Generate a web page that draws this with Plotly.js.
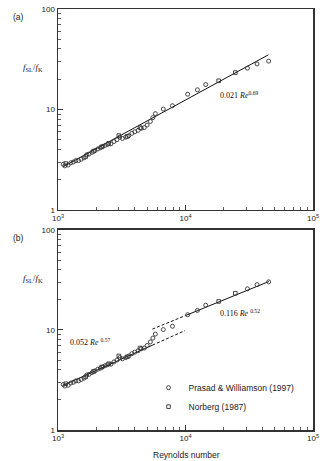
<!DOCTYPE html>
<html>
<head>
<meta charset="utf-8">
<script src="https://cdn.plot.ly/plotly-3.0.1.min.js"></script>
<style>html,body{margin:0;padding:0;background:#fff;}#chart{width:320px;height:461px;}</style>
</head>
<body>
<div id="chart"></div>
<script>
// Prasad & Williamson (1997)
const pwRe = [1100, 1130, 1200, 1260, 1320, 1380, 1450, 1520, 1600, 1680, 1750, 1850, 1950, 2050, 2150, 2250, 2350, 2450, 2600, 2750, 2900, 3050, 3200, 3400, 3600, 3800, 4000, 4250, 4500, 4750, 5000, 5300, 5550, 5800, 6700, 7900, 10400, 12400, 14400, 30600, 36400, 44900];
const pwF  = [2.85, 2.75, 2.8, 2.95, 3.0, 3.1, 3.1, 3.2, 3.3, 3.55, 3.6, 3.75, 3.9, 4.05, 4.15, 4.3, 4.4, 4.5, 4.55, 4.8, 5.0, 5.3, 5.15, 5.3, 5.5, 5.8, 6.0, 6.2, 6.5, 6.6, 7.0, 7.6, 8.3, 9.1, 10.1, 10.9, 14.2, 15.7, 17.7, 25.8, 28.4, 30.3];
// Norberg (1987)
const norRe = [1150, 1650, 1900, 2200, 2500, 3000, 3500, 4400, 18200, 24600];
const norF  = [2.9, 3.4, 3.85, 4.25, 4.6, 5.5, 5.4, 6.6, 19.3, 23.3];
// fit lines (end points)
const fitARe = [1100, 44700];
const fitAF  = [2.7, 35];
const fitB1Re = [1100, 5500];
const fitB1F  = [2.8, 7.05];
const fitB1dRe = [5500, 9900];
const fitB1dF  = [7.05, 9.86];
const fitB2dRe = [5500, 10000];
const fitB2dF  = [10.2, 13.95];
const fitB2Re = [10000, 45000];
const fitB2F  = [13.95, 30.5];
// ticks
const xTickVals = [1000, 10000, 100000];
const xTickText = ['10<sup>3</sup>', '10<sup>4</sup>', '10<sup>5</sup>'];
const yTickVals = [1, 10, 100];
const yTickText = ['1', '10', '100'];
const xMinor = [2000,3000,4000,5000,6000,7000,8000,9000,20000,30000,40000,50000,60000,70000,80000,90000];
const yMinor = [2,3,4,5,6,7,8,9,20,30,40,50,60,70,80,90];

const ink = '#333';
const circ = {symbol: 'circle-open', size: 4, color: ink, line: {width: 0.9, color: ink}};
const sq = {symbol: 'square-open', size: 3.6, color: ink, line: {width: 0.9, color: ink}};
const solid = {color: '#111', width: 1};
const dashed = {color: '#111', width: 1, dash: '3px,2px'};

const traces = [
  {x: fitARe, y: fitAF, mode: 'lines', line: solid, xaxis: 'x', yaxis: 'y', showlegend: false, hoverinfo: 'skip'},
  {x: pwRe, y: pwF, mode: 'markers', marker: circ, xaxis: 'x', yaxis: 'y', showlegend: false},
  {x: norRe, y: norF, mode: 'markers', marker: sq, xaxis: 'x', yaxis: 'y', showlegend: false},
  {x: fitB1Re, y: fitB1F, mode: 'lines', line: solid, xaxis: 'x2', yaxis: 'y2', showlegend: false},
  {x: fitB1dRe, y: fitB1dF, mode: 'lines', line: dashed, xaxis: 'x2', yaxis: 'y2', showlegend: false},
  {x: fitB2dRe, y: fitB2dF, mode: 'lines', line: dashed, xaxis: 'x2', yaxis: 'y2', showlegend: false},
  {x: fitB2Re, y: fitB2F, mode: 'lines', line: solid, xaxis: 'x2', yaxis: 'y2', showlegend: false},
  {x: pwRe, y: pwF, mode: 'markers', marker: circ, xaxis: 'x2', yaxis: 'y2', name: 'Prasad &amp; Williamson (1997)'},
  {x: norRe, y: norF, mode: 'markers', marker: sq, xaxis: 'x2', yaxis: 'y2', name: 'Norberg (1987)'}
];

const tickFont = {family: 'Liberation Sans, Arial, sans-serif', size: 8, color: '#222'};
function xax(anchor) {
  return {type: 'log', range: [3, 5], anchor: anchor, tickmode: 'array', tickvals: xTickVals, ticktext: xTickText,
    ticks: 'inside', ticklen: 5, tickwidth: 1, tickcolor: ink, showline: true, linecolor: ink, linewidth: 1.5, mirror: true,
    showgrid: false, zeroline: false, tickfont: tickFont,
    minor: {tickmode: 'array', tickvals: xMinor, ticks: 'inside', ticklen: 3, tickwidth: 0.8, tickcolor: ink, showgrid: false}};
}
function yax(anchor, domain) {
  return {type: 'log', range: [0, 2], anchor: anchor, domain: domain, tickmode: 'array', tickvals: yTickVals, ticktext: yTickText,
    ticks: 'inside', ticklen: 5, tickwidth: 1, tickcolor: ink, showline: true, linecolor: ink, linewidth: 1.5, mirror: true,
    showgrid: false, zeroline: false, tickfont: tickFont,
    minor: {tickmode: 'array', tickvals: yMinor, ticks: 'inside', ticklen: 3, tickwidth: 0.8, tickcolor: ink, showgrid: false}};
}

const serif = {family: 'Liberation Serif, Times New Roman, serif', size: 8, color: '#111'};
const sans = {family: 'Liberation Sans, Arial, sans-serif', size: 8.5, color: '#222'};
const ytitle = '<i>f</i><sub>SL</sub>/<i>f</i><sub>K</sub>';

const layout = {
  width: 320, height: 461,
  margin: {l: 58, r: 7, t: 9, b: 31},
  paper_bgcolor: '#fff', plot_bgcolor: '#fff',
  xaxis: xax('y'),
  yaxis: yax('x', [0.5226, 1]),
  xaxis2: xax('y2'),
  yaxis2: yax('x2', [0, 0.4751]),
  showlegend: true,
  legend: {x: 0.355, y: 0.135, xanchor: 'left', yanchor: 'top', bgcolor: 'rgba(0,0,0,0)',
    font: {family: 'Liberation Sans, Arial, sans-serif', size: 8.5, color: '#222'}, itemwidth: 30, tracegroupgap: 0},
  annotations: [
    {xref: 'paper', yref: 'paper', x: -0.153, y: 0.981, text: '(a)', showarrow: false, font: sans, xanchor: 'center', yanchor: 'middle'},
    {xref: 'paper', yref: 'paper', x: -0.153, y: 0.456, text: '(b)', showarrow: false, font: sans, xanchor: 'center', yanchor: 'middle'},
    {xref: 'paper', yref: 'paper', x: -0.098, y: 0.862, text: ytitle, showarrow: false, font: {family: 'Liberation Serif, serif', size: 9, color: '#111'}, xanchor: 'center', yanchor: 'middle'},
    {xref: 'paper', yref: 'paper', x: -0.098, y: 0.361, text: ytitle, showarrow: false, font: {family: 'Liberation Serif, serif', size: 9, color: '#111'}, xanchor: 'center', yanchor: 'middle'},
    {xref: 'paper', yref: 'paper', x: 0.627, y: 0.796, text: '0.021 <i>Re</i><sup>0.69</sup>', showarrow: false, font: serif, xanchor: 'left', yanchor: 'middle'},
    {xref: 'paper', yref: 'paper', x: 0.039, y: 0.209, text: '0.052 <i>Re</i> <sup>0.57</sup>', showarrow: false, font: serif, xanchor: 'left', yanchor: 'middle'},
    {xref: 'paper', yref: 'paper', x: 0.627, y: 0.278, text: '0.116 <i>Re</i> <sup>0.52</sup>', showarrow: false, font: serif, xanchor: 'left', yanchor: 'middle'},
    {xref: 'paper', yref: 'paper', x: 0.502, y: -0.059, text: 'Reynolds number', showarrow: false, font: sans, xanchor: 'center', yanchor: 'middle'}
  ]
};

Plotly.newPlot('chart', traces, layout, {staticPlot: true, displayModeBar: false});
</script>
</body>
</html>
